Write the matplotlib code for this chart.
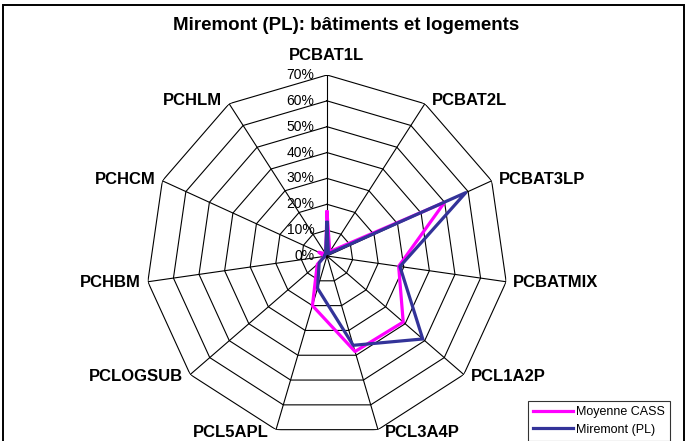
import numpy as np
import matplotlib
matplotlib.use("Agg")
import matplotlib.pyplot as plt
from matplotlib.patches import Rectangle

categories = ["PCBAT1L", "PCBAT2L", "PCBAT3LP", "PCBATMIX", "PCL1A2P", "PCL3A4P",
              "PCL5APL", "PCLOGSUB", "PCHBM", "PCHCM", "PCHLM"]
moyenne_cass = [17, 2, 50, 28, 39, 38.5, 20, 5, 1, 3.5, 1]
miremont = [13, 1, 59, 28.5, 49, 36, 13, 4, 1, 1, 1]
tick_values = [0, 10, 20, 30, 40, 50, 60, 70]
tick_labels = ["0%", "10%", "20%", "30%", "40%", "50%", "60%", "70%"]
title = "Miremont (PL): bâtiments et logements"
series_names = ["Moyenne CASS", "Miremont (PL)"]

plt.rcParams['font.family'] = ['Liberation Sans', 'DejaVu Sans']

W, H = 690, 441
fig = plt.figure(figsize=(W / 100, H / 100), dpi=100)

cx, cy, R = 327, 256, 181
ax = fig.add_axes([(cx - R) / W, (H - cy - R) / H, 2 * R / W, 2 * R / H], projection='polar')
ax.set_theta_zero_location('N')
ax.set_theta_direction(-1)
ax.set_ylim(0, 70)
ax.set_xticks([])
ax.set_yticks([])
ax.grid(False)
ax.spines['polar'].set_visible(False)
ax.patch.set_alpha(0)

n = len(categories)
theta = np.arange(n) * 2 * np.pi / n
theta_closed = np.append(theta, theta[0])

# grid rings (polygons)
for v in tick_values[1:]:
    ax.plot(theta_closed, [v] * (n + 1), color='black', lw=0.8, zorder=1)
# spokes
for t in theta:
    ax.plot([t, t], [0, 70], color='black', lw=0.8, zorder=1)

ax.plot(theta_closed, moyenne_cass + moyenne_cass[:1], color='#FF00FF', lw=2.3,
        label=series_names[0], zorder=3)
ax.plot(theta_closed, miremont + miremont[:1], color='#333399', lw=2.3,
        label=series_names[1], zorder=4)

# radial tick labels
for v, lab in zip(tick_values, tick_labels):
    ax.annotate(lab, xy=(0, v), xytext=(-9, 0), textcoords='offset points',
                ha='right', va='center', fontsize=10, zorder=5)

# category labels
for t, lab in zip(theta, categories):
    s = np.sin(t)
    c = np.cos(t)
    if abs(s) < 0.05:
        off, ha, va = (0, 9), 'center', 'bottom'
    elif s > 0:
        off, ha, va = (5, 2.5 * c), 'left', 'center'
    else:
        off, ha, va = (-5, 2.5 * c), 'right', 'center'
    ax.annotate(lab, xy=(t, 70), xytext=off, textcoords='offset points',
                ha=ha, va=va, fontsize=12, fontweight='bold', zorder=5)

fig.text(346 / W, 1 - 25 / H, title, ha='center', va='center', fontsize=13.5,
         fontweight='bold')

leg = fig.legend(loc='upper left', bbox_to_anchor=(528 / W, 1 - 401 / H),
                 fontsize=9, frameon=True, fancybox=False, edgecolor='black',
                 handlelength=3.2, handletextpad=0.25, borderpad=0.4,
                 labelspacing=0.45, borderaxespad=0)
leg.get_frame().set_linewidth(0.8)
leg._legend_box.sep = 0  # keep compact
for line in leg.get_lines():
    line.set_linewidth(2.3)

fig.patches.append(Rectangle((3 / W, -0.01), (684 - 3) / W, 1 - 5 / H + 0.01,
                             transform=fig.transFigure, fill=False,
                             edgecolor='black', lw=1.4))

fig.savefig("out.png", dpi=100, facecolor='white')
